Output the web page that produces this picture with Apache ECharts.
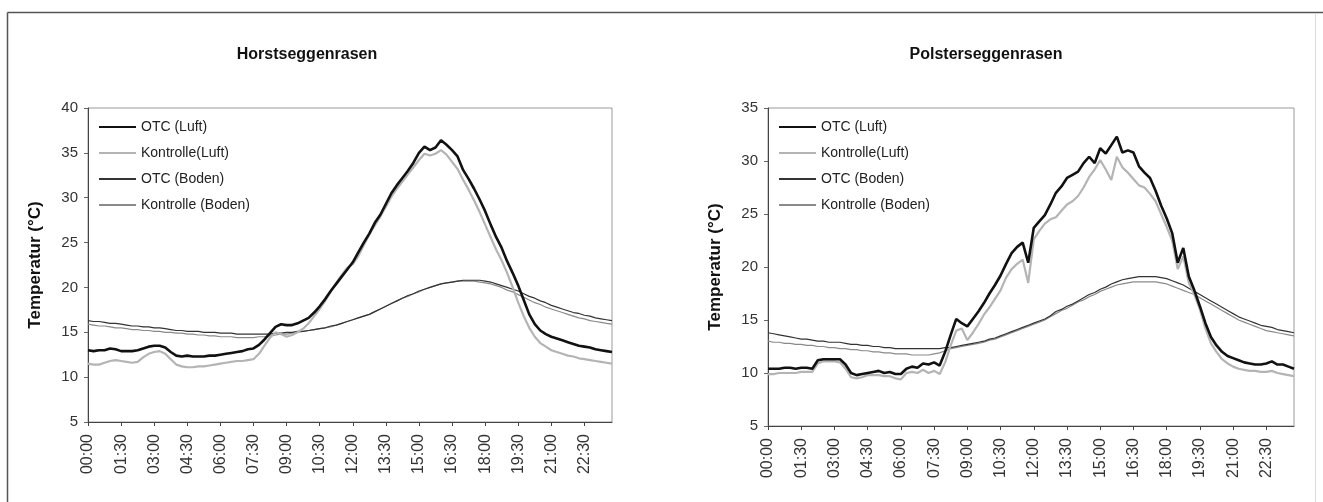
<!DOCTYPE html>
<html>
<head>
<meta charset="utf-8">
<script src="https://cdn.jsdelivr.net/npm/echarts@6/dist/echarts.min.js"></script>
<style>
html,body{margin:0;padding:0;background:#fff;}
#c{width:1323px;height:502px;}
</style>
</head>
<body>
<div id="c"></div>
<script>
const times = ["00:00","00:15","00:30","00:45","01:00","01:15","01:30","01:45","02:00","02:15","02:30","02:45",
"03:00","03:15","03:30","03:45","04:00","04:15","04:30","04:45","05:00","05:15","05:30","05:45",
"06:00","06:15","06:30","06:45","07:00","07:15","07:30","07:45","08:00","08:15","08:30","08:45",
"09:00","09:15","09:30","09:45","10:00","10:15","10:30","10:45","11:00","11:15","11:30","11:45",
"12:00","12:15","12:30","12:45","13:00","13:15","13:30","13:45","14:00","14:15","14:30","14:45",
"15:00","15:15","15:30","15:45","16:00","16:15","16:30","16:45","17:00","17:15","17:30","17:45",
"18:00","18:15","18:30","18:45","19:00","19:15","19:30","19:45","20:00","20:15","20:30","20:45",
"21:00","21:15","21:30","21:45","22:00","22:15","22:30","22:45","23:00","23:15","23:30","23:45"];

const seriesNames = ["OTC (Luft)", "Kontrolle(Luft)", "OTC (Boden)", "Kontrolle (Boden)"];
const chartTitles = ["Horstseggenrasen", "Polsterseggenrasen"];
const yAxisName = "Temperatur (°C)";
const yTicksH = [5, 10, 15, 20, 25, 30, 35, 40];
const yTicksP = [5, 10, 15, 20, 25, 30, 35];

// Horstseggenrasen
const H_otcLuft = [
13.0,12.9,13.0,13.0, 13.2,13.1,12.9,12.9, 12.9,13.0,13.2,13.4, 13.5,13.5,13.3,12.8,
12.4,12.3,12.4,12.3, 12.3,12.3,12.4,12.4, 12.5,12.6,12.7,12.8, 12.9,13.1,13.2,13.6,
14.2,14.9,15.6,15.9, 15.8,15.8,16.0,16.3, 16.6,17.2,17.9,18.7, 19.6,20.4,21.2,22.0,
22.8,23.9,25.0,26.0, 27.2,28.1,29.3,30.5, 31.4,32.2,33.0,33.9, 35.0,35.7,35.3,35.6,
36.4,35.9,35.3,34.6, 33.1,32.1,31.0,29.8, 28.5,27.0,25.6,24.4, 22.9,21.6,20.2,18.6,
17.0,15.9,15.2,14.8, 14.5,14.3,14.1,13.9, 13.7,13.5,13.4,13.3, 13.1,13.0,12.9,12.8];
const H_konLuft = [
11.5,11.4,11.4,11.6, 11.8,11.9,11.8,11.7, 11.6,11.7,12.2,12.6, 12.8,12.9,12.6,12.0,
11.4,11.2,11.1,11.1, 11.2,11.2,11.3,11.4, 11.5,11.6,11.7,11.8, 11.8,11.9,12.0,12.6,
13.5,14.4,15.0,14.8, 14.5,14.7,15.0,15.4, 16.0,16.8,17.6,18.5, 19.5,20.5,21.4,22.2,
22.6,23.5,24.7,25.9, 26.9,27.9,29.0,30.1, 31.0,31.8,32.6,33.4, 34.2,34.9,34.7,34.9,
35.3,34.8,34.0,33.2, 32.0,30.9,29.7,28.4, 27.0,25.6,24.2,23.0, 21.6,20.0,18.3,16.8,
15.5,14.5,13.8,13.4, 13.0,12.8,12.6,12.4, 12.3,12.1,12.0,11.9, 11.8,11.7,11.6,11.5];
const H_otcBoden = [
16.3,16.2,16.2,16.1, 16.0,16.0,15.9,15.8, 15.7,15.7,15.6,15.6, 15.5,15.5,15.4,15.3,
15.2,15.2,15.1,15.1, 15.1,15.0,15.0,15.0, 14.9,14.9,14.9,14.8, 14.8,14.8,14.8,14.8,
14.8,14.8,14.9,14.9, 15.0,15.0,15.1,15.1, 15.2,15.3,15.4,15.5, 15.7,15.8,16.0,16.2,
16.4,16.6,16.8,17.0, 17.3,17.6,17.9,18.2, 18.5,18.8,19.1,19.3, 19.6,19.8,20.0,20.2,
20.4,20.5,20.6,20.7, 20.8,20.8,20.8,20.8, 20.7,20.6,20.4,20.2, 20.0,19.8,19.6,19.3,
19.0,18.8,18.5,18.3, 18.0,17.8,17.6,17.4, 17.2,17.1,16.9,16.8, 16.6,16.5,16.4,16.3];
const H_konBoden = [
15.9,15.8,15.7,15.7, 15.6,15.5,15.5,15.4, 15.3,15.3,15.2,15.2, 15.1,15.1,15.0,15.0,
14.9,14.9,14.8,14.8, 14.7,14.7,14.6,14.6, 14.5,14.5,14.5,14.4, 14.4,14.4,14.4,14.5,
14.5,14.6,14.7,14.8, 14.8,14.9,15.0,15.1, 15.2,15.3,15.4,15.5, 15.6,15.8,16.0,16.2,
16.4,16.6,16.8,17.0, 17.3,17.6,17.9,18.2, 18.5,18.8,19.0,19.3, 19.5,19.8,20.0,20.2,
20.4,20.5,20.6,20.7, 20.7,20.7,20.7,20.6, 20.5,20.4,20.2,20.0, 19.7,19.5,19.2,18.9,
18.6,18.3,18.1,17.8, 17.6,17.4,17.2,17.0, 16.8,16.6,16.5,16.3, 16.2,16.1,16.0,15.9];

// Polsterseggenrasen
const P_otcLuft = [
10.4,10.4,10.4,10.5, 10.5,10.4,10.5,10.5, 10.4,11.2,11.3,11.3, 11.3,11.3,10.8,10.0,
9.8,9.9,10.0,10.1, 10.2,10.0,10.1,9.9, 9.9,10.4,10.6,10.5, 10.9,10.8,11.0,10.7,
12.0,13.6,15.1,14.7, 14.4,15.1,15.8,16.6, 17.5,18.3,19.2,20.3, 21.3,21.9,22.3,20.4,
23.7,24.3,24.9,25.9, 27.0,27.6,28.4,28.7, 29.0,29.8,30.4,29.8, 31.2,30.7,31.5,32.3,
30.8,31.0,30.8,29.5, 28.9,28.4,27.2,25.8, 24.6,23.2,20.4,21.8, 19.1,17.8,16.3,14.7,
13.4,12.6,12.0,11.6, 11.4,11.2,11.0,10.9, 10.8,10.8,10.9,11.1, 10.8,10.8,10.6,10.4];
const P_konLuft = [
9.9,9.9,10.0,10.0, 10.0,10.0,10.1,10.1, 10.1,10.9,11.1,11.1, 11.1,11.0,10.4,9.6,
9.5,9.6,9.8,9.8, 9.8,9.7,9.7,9.5, 9.4,10.0,10.1,10.0, 10.3,10.0,10.2,9.9,
11.0,12.6,14.0,14.2, 13.1,13.8,14.6,15.5, 16.2,17.0,17.8,19.0, 19.8,20.3,20.7,18.5,
22.6,23.4,24.1,24.5, 24.7,25.3,25.9,26.2, 26.7,27.5,28.5,29.2, 30.1,29.2,28.2,30.4,
29.4,28.9,28.3,27.7, 27.5,26.9,26.2,25.0, 23.8,22.5,19.8,21.0, 18.5,17.4,16.0,14.2,
12.8,12.0,11.3,10.9, 10.6,10.4,10.3,10.2, 10.2,10.1,10.1,10.2, 10.0,9.9,9.8,9.7];
const P_otcBoden = [
13.8,13.7,13.6,13.5, 13.4,13.3,13.2,13.2, 13.1,13.0,13.0,12.9, 12.9,12.9,12.8,12.7,
12.7,12.6,12.6,12.5, 12.5,12.4,12.4,12.3, 12.3,12.3,12.3,12.3, 12.3,12.3,12.3,12.3,
12.4,12.4,12.5,12.6, 12.7,12.8,12.9,13.0, 13.2,13.3,13.5,13.7, 13.9,14.1,14.3,14.5,
14.7,14.9,15.1,15.4, 15.8,16.0,16.3,16.5, 16.8,17.1,17.4,17.6, 17.9,18.1,18.4,18.6,
18.8,18.9,19.0,19.1, 19.1,19.1,19.1,19.0, 18.9,18.7,18.5,18.3, 18.0,17.7,17.4,17.1,
16.8,16.5,16.2,15.9, 15.6,15.3,15.1,14.9, 14.7,14.5,14.4,14.3, 14.1,14.0,13.9,13.8];
const P_konBoden = [
13.0,12.9,12.9,12.8, 12.8,12.7,12.7,12.6, 12.6,12.5,12.5,12.4, 12.4,12.3,12.3,12.2,
12.2,12.1,12.1,12.0, 12.0,11.9,11.9,11.8, 11.8,11.8,11.7,11.7, 11.7,11.7,11.8,11.9,
12.1,12.3,12.4,12.5, 12.6,12.7,12.8,12.9, 13.1,13.2,13.4,13.6, 13.8,14.0,14.2,14.4,
14.6,14.8,15.0,15.3, 15.6,15.9,16.1,16.4, 16.7,16.9,17.2,17.4, 17.7,17.9,18.1,18.3,
18.4,18.5,18.6,18.6, 18.6,18.6,18.6,18.5, 18.4,18.2,18.0,17.8, 17.6,17.4,17.1,16.8,
16.5,16.2,15.9,15.6, 15.3,15.0,14.8,14.6, 14.4,14.2,14.0,13.9, 13.8,13.7,13.6,13.5];

const FONT = "Liberation Sans, Arial, sans-serif";
const lineStyles = [
  {color: '#111111', width: 2.6},
  {color: '#b4b4b4', width: 2.2},
  {color: '#333333', width: 1.2},
  {color: '#8a8a8a', width: 1.2}
];
const dataSets = [
  [H_otcLuft, H_konLuft, H_otcBoden, H_konBoden],
  [P_otcLuft, P_konLuft, P_otcBoden, P_konBoden]
];
const grids = [
  {left: 88, top: 108, width: 524, height: 314},
  {left: 768, top: 108, width: 526, height: 318}
];
const yTickSets = [yTicksH, yTicksP];

const chart = echarts.init(document.getElementById('c'), null, {renderer: 'canvas'});

const option = {
  backgroundColor: '#ffffff',
  animation: false,
  textStyle: {fontFamily: FONT},
  title: chartTitles.map((t, i) => ({
    text: t,
    left: i === 0 ? 302 : 981,
    top: 42,
    textAlign: 'center',
    textStyle: {fontFamily: FONT, fontSize: 16, fontWeight: 'bold', color: '#111'}
  })),
  legend: [0, 1].map(i => ({
    data: seriesNames,
    orient: 'vertical',
    left: i === 0 ? 98 : 778,
    top: 120,
    padding: 0,
    itemWidth: 37,
    itemHeight: 14,
    itemGap: 12,
    selectedMode: false,
    itemStyle: {opacity: 0, borderWidth: 0},
    textStyle: {fontFamily: FONT, fontSize: 14, color: '#222'}
  })),
  grid: grids.map(g => Object.assign({show: true, borderColor: '#9a9a9a', borderWidth: 1, backgroundColor: 'transparent'}, g)),
  xAxis: [0, 1].map(i => ({
    type: 'category',
    gridIndex: i,
    data: times,
    boundaryGap: false,
    axisLine: {show: true, lineStyle: {color: '#444', width: 1}},
    axisTick: {show: true, interval: 5, length: 4, lineStyle: {color: '#444'}},
    axisLabel: {interval: 5, rotate: 90, margin: 12, fontFamily: FONT, fontSize: 16, color: '#333'},
    splitLine: {show: false}
  })),
  yAxis: [0, 1].map(i => ({
    type: 'value',
    gridIndex: i,
    min: yTickSets[i][0],
    max: yTickSets[i][yTickSets[i].length - 1],
    interval: yTickSets[i][1] - yTickSets[i][0],
    name: yAxisName,
    nameLocation: 'middle',
    nameGap: 44,
    nameTextStyle: {fontFamily: FONT, fontSize: 17, fontWeight: 'bold', color: '#111'},
    axisLine: {show: true, lineStyle: {color: '#444', width: 1}},
    axisTick: {show: true, length: 4, lineStyle: {color: '#666'}},
    axisLabel: {margin: 10, fontFamily: FONT, fontSize: 15, color: '#333'},
    splitLine: {show: false}
  })),
  series: [],
  graphic: [
    {type: 'line', shape: {x1: 7.5, y1: 12.5, x2: 1323, y2: 12.5}, style: {stroke: '#555', lineWidth: 1.5}, silent: true},
    {type: 'line', shape: {x1: 7.5, y1: 12.5, x2: 7.5, y2: 502}, style: {stroke: '#555', lineWidth: 1.5}, silent: true},
    {type: 'line', shape: {x1: 1315.5, y1: 14, x2: 1315.5, y2: 502}, style: {stroke: '#ddd', lineWidth: 1}, silent: true}
  ]
};

[0, 1].forEach(g => {
  seriesNames.forEach((name, k) => {
    option.series.push({
      type: 'line',
      name: name,
      xAxisIndex: g,
      yAxisIndex: g,
      data: dataSets[g][k],
      symbol: 'none',
      smooth: false,
      z: 10 - k,
      lineStyle: {color: lineStyles[k].color, width: lineStyles[k].width},
      itemStyle: {color: lineStyles[k].color}
    });
  });
});

chart.setOption(option);
</script>
</body>
</html>
